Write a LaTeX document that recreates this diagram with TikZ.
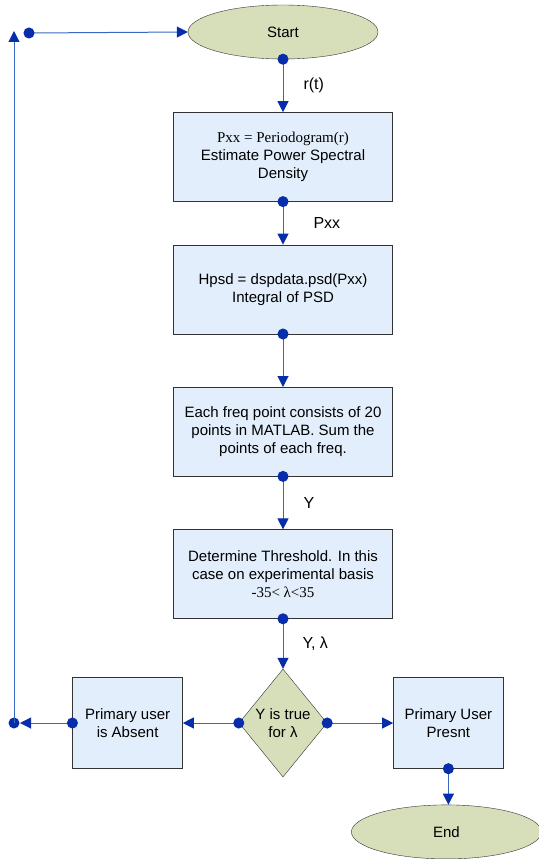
\documentclass[tikz,border=0pt]{standalone}
\usepackage{fontspec}
\setmainfont{Liberation Sans}
\newfontfamily\timesfont{Liberation Serif}
\usetikzlibrary{arrows.meta,shapes,positioning}
\definecolor{boxfill}{RGB}{226,238,251}
\definecolor{termfill}{RGB}{215,222,186}
\definecolor{linkblue}{RGB}{55,105,190}
\definecolor{dotblue}{RGB}{8,45,170}
\tikzset{
  basic/.style    = {draw=black!80, thin, fill=boxfill, align=center,
                     font=\fontsize{15}{18}\selectfont},
  process/.style  = {basic, rectangle, minimum width=219pt, minimum height=89pt},
  side/.style     = {basic, rectangle, minimum width=110pt, minimum height=91pt},
  terminal/.style = {basic, ellipse, fill=termfill, minimum width=190pt, minimum height=54pt},
  decision/.style = {basic, diamond, fill=termfill, shape aspect=0.82, inner sep=-2pt,
                     minimum width=88pt, minimum height=108pt},
  link/.style     = {draw=linkblue, line width=1pt,
                     -{Triangle[length=11pt,width=11pt,color=dotblue]}},
  dotlink/.style  = {link, shorten <=-5.5pt,
                     {Circle[length=11pt,color=dotblue]}-{Triangle[length=11pt,width=11pt,color=dotblue]}},
  tag/.style      = {anchor=west, inner sep=0pt, font=\fontsize{16}{19}\selectfont}
}

\begin{document}
\begin{tikzpicture}[x=1pt,y=1pt]
\useasboundingbox (0,0) rectangle (538,-859);

% main column
\node[terminal] (start) at (283,-32) {Start};
\node[process, below=53pt of start] (psd)
  {{\timesfont Pxx = Periodogram(r)}\\Estimate Power Spectral\\Density};
\node[process, below=43pt of psd] (hpsd) {Hpsd = dspdata.psd(Pxx)\\Integral of PSD};
\node[process, below=53pt of hpsd] (sum)
  {Each freq point consists of 20\\points in MATLAB. Sum the\\points of each freq.};
\node[process, below=53pt of sum] (thresh)
  {Determine Threshold. In this\\case on experimental basis\\{\timesfont -35< λ<35}};
\node[decision, below=50pt of thresh] (test) {Y is true\\for λ};

% outcomes
\node[side, left=56pt of test] (absent) {Primary user\\is Absent};
\node[side, right=66pt of test] (present) {Primary User\\Presnt};
\node[terminal, below=36pt of present, xshift=-2pt] (end) {End};

% loop back corners
\coordinate (lt) at (14,-31);
\coordinate (lb) at (test.west -| lt);
\coordinate (ls) at (29,-33);

\draw[dotlink] (start.south) -- (psd.north) node[tag, midway, xshift=20pt] (lrt) {r(t)};
\draw[dotlink] (psd.south) -- (hpsd.north) node[tag, midway, xshift=30pt] (lpxx) {Pxx};
\draw[dotlink] (hpsd.south) -- (sum.north);
\draw[dotlink] (sum.south) -- (thresh.north) node[tag, midway, xshift=20pt] (ly) {Y};
\draw[dotlink] (thresh.south) -- (test.north) node[tag, midway, xshift=19pt] (lyl) {Y, λ};
\draw[dotlink] (test.west) -- (absent.east);
\draw[dotlink] (test.east) -- (present.west);
\draw[dotlink] (present.south) -- (present.south |- end.north);
\draw[dotlink, shorten >=6pt] (absent.west) -- (lb);
\fill[dotblue] (lb) circle (5.5pt);
\draw[link] (lb) -- (lt);
\draw[dotlink] (ls) -- (start.west);
\end{tikzpicture}
\end{document}
